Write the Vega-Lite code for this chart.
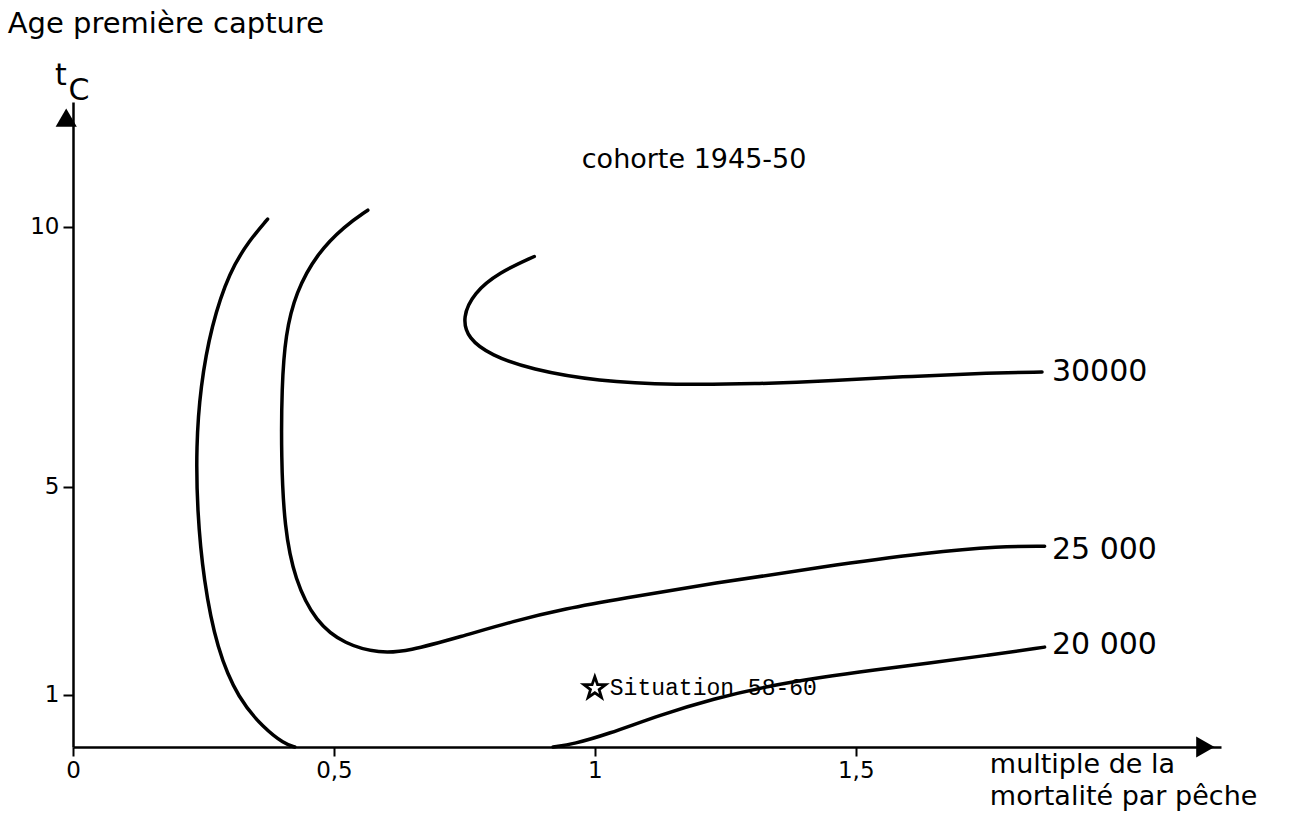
{
  "$schema": "https://vega.github.io/schema/vega-lite/v6.json",
  "autosize": {"type": "none"},
  "width": 1148,
  "height": 645,
  "padding": {"left": 73, "top": 102, "right": 83, "bottom": 71},
  "background": "white",
  "config": {
    "view": {"stroke": null},
    "axis": {"grid": false, "domainColor": "black", "domainWidth": 2.5, "tickColor": "black", "tickWidth": 2, "labelColor": "black", "labelFont": "DejaVu Sans", "labelFontSize": 23, "title": null}
  },
  "datasets": {
    "curves": [
      {"curve": "a", "o": 1, "x": 0.373, "y": 10.15},
      {"curve": "a", "o": 2, "x": 0.339, "y": 9.75},
      {"curve": "a", "o": 3, "x": 0.300, "y": 9.15},
      {"curve": "a", "o": 4, "x": 0.265, "y": 8.10},
      {"curve": "a", "o": 5, "x": 0.244, "y": 6.92},
      {"curve": "a", "o": 6, "x": 0.236, "y": 5.77},
      {"curve": "a", "o": 7, "x": 0.238, "y": 4.55},
      {"curve": "a", "o": 8, "x": 0.250, "y": 3.21},
      {"curve": "a", "o": 9, "x": 0.276, "y": 1.87},
      {"curve": "a", "o": 10, "x": 0.317, "y": 0.92},
      {"curve": "a", "o": 11, "x": 0.366, "y": 0.36},
      {"curve": "a", "o": 12, "x": 0.405, "y": 0.06},
      {"curve": "a", "o": 13, "x": 0.425, "y": 0.0},
      {"curve": "b", "o": 1, "x": 0.565, "y": 10.32},
      {"curve": "b", "o": 2, "x": 0.521, "y": 10.02},
      {"curve": "b", "o": 3, "x": 0.467, "y": 9.48},
      {"curve": "b", "o": 4, "x": 0.427, "y": 8.74},
      {"curve": "b", "o": 5, "x": 0.407, "y": 7.93},
      {"curve": "b", "o": 6, "x": 0.400, "y": 6.92},
      {"curve": "b", "o": 7, "x": 0.399, "y": 5.57},
      {"curve": "b", "o": 8, "x": 0.405, "y": 4.22},
      {"curve": "b", "o": 9, "x": 0.425, "y": 3.21},
      {"curve": "b", "o": 10, "x": 0.465, "y": 2.40},
      {"curve": "b", "o": 11, "x": 0.521, "y": 1.97},
      {"curve": "b", "o": 12, "x": 0.588, "y": 1.80},
      {"curve": "b", "o": 13, "x": 0.642, "y": 1.84},
      {"curve": "b", "o": 14, "x": 0.743, "y": 2.12},
      {"curve": "b", "o": 15, "x": 0.844, "y": 2.42},
      {"curve": "b", "o": 16, "x": 0.944, "y": 2.66},
      {"curve": "b", "o": 17, "x": 1.050, "y": 2.85},
      {"curve": "b", "o": 18, "x": 1.228, "y": 3.15},
      {"curve": "b", "o": 19, "x": 1.433, "y": 3.46},
      {"curve": "b", "o": 20, "x": 1.640, "y": 3.74},
      {"curve": "b", "o": 21, "x": 1.776, "y": 3.86},
      {"curve": "b", "o": 22, "x": 1.862, "y": 3.86},
      {"curve": "c", "o": 1, "x": 0.884, "y": 9.43},
      {"curve": "c", "o": 2, "x": 0.816, "y": 9.12},
      {"curve": "c", "o": 3, "x": 0.768, "y": 8.73},
      {"curve": "c", "o": 4, "x": 0.746, "y": 8.26},
      {"curve": "c", "o": 5, "x": 0.757, "y": 7.85},
      {"curve": "c", "o": 6, "x": 0.801, "y": 7.53},
      {"curve": "c", "o": 7, "x": 0.877, "y": 7.26},
      {"curve": "c", "o": 8, "x": 1.005, "y": 7.03},
      {"curve": "c", "o": 9, "x": 1.156, "y": 6.96},
      {"curve": "c", "o": 10, "x": 1.307, "y": 6.98},
      {"curve": "c", "o": 11, "x": 1.457, "y": 7.04},
      {"curve": "c", "o": 12, "x": 1.608, "y": 7.13},
      {"curve": "c", "o": 13, "x": 1.759, "y": 7.19},
      {"curve": "c", "o": 14, "x": 1.857, "y": 7.21},
      {"curve": "d", "o": 1, "x": 0.92, "y": 0.0},
      {"curve": "d", "o": 2, "x": 0.96, "y": 0.06},
      {"curve": "d", "o": 3, "x": 1.023, "y": 0.24},
      {"curve": "d", "o": 4, "x": 1.126, "y": 0.62},
      {"curve": "d", "o": 5, "x": 1.228, "y": 0.93},
      {"curve": "d", "o": 6, "x": 1.331, "y": 1.17},
      {"curve": "d", "o": 7, "x": 1.433, "y": 1.34},
      {"curve": "d", "o": 8, "x": 1.536, "y": 1.48},
      {"curve": "d", "o": 9, "x": 1.640, "y": 1.61},
      {"curve": "d", "o": 10, "x": 1.750, "y": 1.76},
      {"curve": "d", "o": 11, "x": 1.862, "y": 1.92}
    ],
    "labels": [
      {"kind": "level", "text": "30000", "x": 1.876, "y": 7.21},
      {"kind": "level", "text": "25 000", "x": 1.876, "y": 3.79},
      {"kind": "level", "text": "20 000", "x": 1.876, "y": 1.96},
      {"kind": "title", "text": "cohorte 1945-50", "x": 0.975, "y": 11.29},
      {"kind": "ytitle", "text": "Age première capture", "x": -0.125, "y": 13.9},
      {"kind": "xtitle", "text": "multiple de la", "x": 1.757, "y": -0.34},
      {"kind": "xtitle", "text": "mortalité par pêche", "x": 1.757, "y": -0.96},
      {"kind": "sym", "text": "t", "x": -0.023, "y": 12.9},
      {"kind": "sym", "text": "C", "x": 0.0115, "y": 12.62}
    ],
    "arrows": [
      {"dir": "up", "x": -0.013, "y": 12.1},
      {"dir": "right", "x": 2.17, "y": 0.0}
    ],
    "situation": [
      {"text": "Situation 58-60", "x": 1.0, "y": 1.13}
    ]
  },
  "layer": [
    {
      "data": {"name": "curves"},
      "mark": {"type": "line", "interpolate": "basis", "color": "black", "strokeWidth": 3.5, "strokeCap": "round"},
      "encoding": {
        "x": {"field": "x", "type": "quantitative", "scale": {"domain": [0, 2.2], "nice": false},
          "axis": {"values": [0, 0.5, 1, 1.5], "labelExpr": "replace(format(datum.value, '~g'), '.', ',')", "tickSize": 9, "labelPadding": 3, "labelFlush": false}},
        "y": {"field": "y", "type": "quantitative", "scale": {"domain": [0, 12.4], "nice": false},
          "axis": {"values": [1, 5, 10], "format": "d", "tickSize": 10, "labelPadding": 4}},
        "detail": {"field": "curve"},
        "order": {"field": "o", "type": "quantitative"}
      }
    },
    {
      "data": {"name": "arrows"},
      "transform": [{"filter": "datum.dir == 'up'"}],
      "mark": {"type": "point", "shape": "triangle-up", "filled": true, "color": "black", "size": 450, "opacity": 1},
      "encoding": {"x": {"field": "x", "type": "quantitative"}, "y": {"field": "y", "type": "quantitative"}}
    },
    {
      "data": {"name": "arrows"},
      "transform": [{"filter": "datum.dir == 'right'"}],
      "mark": {"type": "point", "shape": "triangle-right", "filled": true, "color": "black", "size": 450, "opacity": 1},
      "encoding": {"x": {"field": "x", "type": "quantitative"}, "y": {"field": "y", "type": "quantitative"}}
    },
    {
      "data": {"name": "situation"},
      "mark": {"type": "point", "shape": "M0,-1L0.24,-0.31L0.95,-0.31L0.38,0.12L0.59,0.81L0,0.4L-0.59,0.81L-0.38,0.12L-0.95,-0.31L-0.24,-0.31Z", "filled": false, "stroke": "black", "strokeWidth": 2.8, "size": 520, "opacity": 1},
      "encoding": {"x": {"field": "x", "type": "quantitative"}, "y": {"field": "y", "type": "quantitative"}}
    },
    {
      "data": {"name": "situation"},
      "mark": {"type": "text", "align": "left", "baseline": "middle", "dx": 15, "font": "Liberation Mono", "fontSize": 23, "color": "black"},
      "encoding": {"x": {"field": "x", "type": "quantitative"}, "y": {"field": "y", "type": "quantitative"}, "text": {"field": "text"}}
    },
    {
      "data": {"name": "labels"},
      "transform": [{"filter": "datum.kind == 'level'"}],
      "mark": {"type": "text", "align": "left", "baseline": "middle", "font": "DejaVu Sans", "fontSize": 30, "color": "black"},
      "encoding": {"x": {"field": "x", "type": "quantitative"}, "y": {"field": "y", "type": "quantitative"}, "text": {"field": "text"}}
    },
    {
      "data": {"name": "labels"},
      "transform": [{"filter": "datum.kind == 'title'"}],
      "mark": {"type": "text", "align": "left", "baseline": "middle", "font": "DejaVu Sans", "fontSize": 27, "color": "black"},
      "encoding": {"x": {"field": "x", "type": "quantitative"}, "y": {"field": "y", "type": "quantitative"}, "text": {"field": "text"}}
    },
    {
      "data": {"name": "labels"},
      "transform": [{"filter": "datum.kind == 'ytitle'"}],
      "mark": {"type": "text", "align": "left", "baseline": "middle", "font": "DejaVu Sans", "fontSize": 29, "color": "black"},
      "encoding": {"x": {"field": "x", "type": "quantitative"}, "y": {"field": "y", "type": "quantitative"}, "text": {"field": "text"}}
    },
    {
      "data": {"name": "labels"},
      "transform": [{"filter": "datum.kind == 'xtitle'"}],
      "mark": {"type": "text", "align": "left", "baseline": "middle", "font": "DejaVu Sans", "fontSize": 27, "color": "black"},
      "encoding": {"x": {"field": "x", "type": "quantitative"}, "y": {"field": "y", "type": "quantitative"}, "text": {"field": "text"}}
    },
    {
      "data": {"name": "labels"},
      "transform": [{"filter": "datum.kind == 'sym'"}],
      "mark": {"type": "text", "align": "center", "baseline": "middle", "font": "DejaVu Sans", "fontSize": 30, "color": "black"},
      "encoding": {"x": {"field": "x", "type": "quantitative"}, "y": {"field": "y", "type": "quantitative"}, "text": {"field": "text"}}
    }
  ]
}
